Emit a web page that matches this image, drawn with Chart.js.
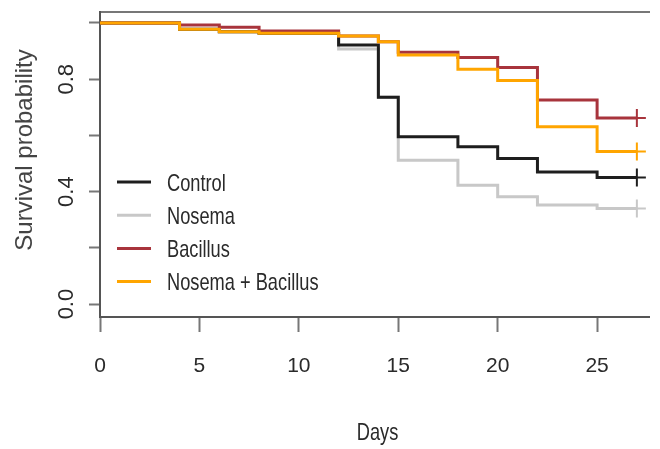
<!DOCTYPE html>
<html>
<head>
<meta charset="utf-8">
<script src="https://cdn.jsdelivr.net/npm/chart.js@4.4.1/dist/chart.umd.min.js"></script>
<style>
  html, body { margin: 0; padding: 0; background: #fff; }
  #wrap { width: 660px; height: 449px; position: relative; }
</style>
</head>
<body>
<div id="wrap"><canvas id="survChart"></canvas></div>
<script>
// Kaplan-Meier steps (value after the drop on that day)
const days = [0, 4, 6, 8, 12, 14, 15, 18, 20, 22, 25, 27];
const controlSurv = [1, 0.978, 0.969, 0.963, 0.922, 0.736, 0.595, 0.56, 0.518, 0.47, 0.45, 0.45];
const nosemaSurv = [1, 0.978, 0.969, 0.963, 0.907, 0.736, 0.512, 0.423, 0.382, 0.352, 0.34, 0.34];
const bacillusSurv = [1, 0.993, 0.985, 0.971, 0.954, 0.933, 0.896, 0.877, 0.842, 0.726, 0.662, 0.662];
const comboSurv = [1, 0.978, 0.969, 0.963, 0.954, 0.933, 0.886, 0.835, 0.795, 0.631, 0.543, 0.543];

const groupNames = ["Control", "Nosema", "Bacillus", "Nosema + Bacillus"];
const groupColors = ["#1e1e1e", "#c8c8c8", "#a8343c", "#ffa500"];
const drawOrder = [2, 3, 1, 0]; // orange on top, then red, black, gray

const xTicks = [0, 5, 10, 15, 20, 25];
const yTicks = [0, 0.2, 0.4, 0.6, 0.8, 1.0];
const yLabels = ["0.0", "0.4", "0.8"];

const plainFont = "'Liberation Sans', Arial, sans-serif";
const squeeze = 0.76; // the source picture is squashed sideways

const allSeries = [controlSurv, nosemaSurv, bacillusSurv, comboSurv];

const datasets = allSeries.map((vals, i) => ({
  label: groupNames[i],
  data: days.map((d, j) => ({ x: d, y: vals[j] })),
  stepped: true,
  borderColor: groupColors[i],
  borderWidth: 3,
  fill: false,
  order: drawOrder[i],
  pointStyle: "cross",
  pointRadius: (ctx) => (ctx.dataIndex === days.length - 1 ? 9 : 0),
  pointBorderColor: groupColors[i],
  pointBorderWidth: 2,
}));

function narrowText(ctx, text, x, y, size, color, align) {
  ctx.save();
  ctx.translate(x, y);
  ctx.scale(squeeze, 1);
  ctx.fillStyle = color;
  ctx.font = size + "px " + plainFont;
  ctx.textAlign = align;
  ctx.textBaseline = "middle";
  ctx.fillText(text, 0, 0);
  ctx.restore();
}

// legend drawn inside the plot, like R's legend()
const insideLegend = {
  id: "insideLegend",
  afterDatasetsDraw(chart) {
    const ctx = chart.ctx;
    groupNames.forEach((name, i) => {
      const y = 182 + i * 33.2;
      ctx.save();
      ctx.strokeStyle = groupColors[i];
      ctx.lineWidth = 3;
      ctx.beginPath();
      ctx.moveTo(117, y);
      ctx.lineTo(151, y);
      ctx.stroke();
      ctx.restore();
      narrowText(ctx, name, 167, y + 2, 24, "#2a2a2a", "left");
    });
  },
};

// axis titles placed like the R plot
const axisTitles = {
  id: "axisTitles",
  afterDraw(chart) {
    const ctx = chart.ctx;
    ctx.save();
    ctx.translate(25, 150);
    ctx.rotate(-Math.PI / 2);
    ctx.fillStyle = "#444";
    ctx.font = "24px " + plainFont;
    ctx.textAlign = "center";
    ctx.textBaseline = "middle";
    ctx.fillText("Survival probability", 0, 0);
    ctx.restore();
    const area = chart.chartArea;
    narrowText(ctx, "Days", (area.left + area.right) / 2 + 3, 433, 24, "#2a2a2a", "center");
  },
};

const ctx = document.getElementById("survChart").getContext("2d");
new Chart(ctx, {
  type: "line",
  data: { datasets: datasets },
  options: {
    responsive: true,
    maintainAspectRatio: false,
    animation: false,
    layout: { padding: 0 },
    plugins: {
      legend: { display: false },
      tooltip: { enabled: false },
    },
    scales: {
      x: {
        type: "linear",
        position: "bottom",
        min: 0,
        max: 27.61,
        afterBuildTicks: (scale) => {
          scale.ticks = xTicks.map((v) => ({ value: v }));
        },
        afterFit: (scale) => {
          scale.height = 132;
        },
        ticks: {
          autoSkip: false,
          maxRotation: 0,
          padding: 22,
          color: "#2a2a2a",
          font: { family: plainFont, size: 21 },
        },
        grid: {
          drawOnChartArea: false,
          drawTicks: true,
          tickLength: 15,
          tickWidth: 2,
          tickColor: "#777",
        },
        border: { color: "#555", width: 2 },
      },
      xTop: {
        type: "linear",
        axis: "x",
        position: "top",
        min: 0,
        max: 27.61,
        ticks: { display: false },
        grid: { display: false },
        border: { color: "#777", width: 2 },
        afterFit: (scale) => {
          scale.height = 12;
        },
      },
      y: {
        type: "linear",
        min: -0.046,
        max: 1.039,
        afterBuildTicks: (scale) => {
          scale.ticks = yTicks.map((v) => ({ value: v }));
        },
        afterFit: (scale) => {
          scale.width = 100;
          scale.paddingTop = 0;
          scale.paddingBottom = 0;
        },
        ticks: {
          autoSkip: false,
          minRotation: 90,
          maxRotation: 90,
          crossAlign: "center",
          padding: 7,
          color: "#2a2a2a",
          font: { family: plainFont, size: 22 },
          callback: (v) => (yLabels.includes(Number(v).toFixed(1)) ? Number(v).toFixed(1) : ""),
        },
        grid: {
          drawOnChartArea: false,
          drawTicks: true,
          tickLength: 11,
          tickWidth: 2,
          tickColor: "#777",
        },
        border: { color: "#555", width: 2 },
      },
    },
  },
  plugins: [insideLegend, axisTitles],
});
</script>
</body>
</html>
